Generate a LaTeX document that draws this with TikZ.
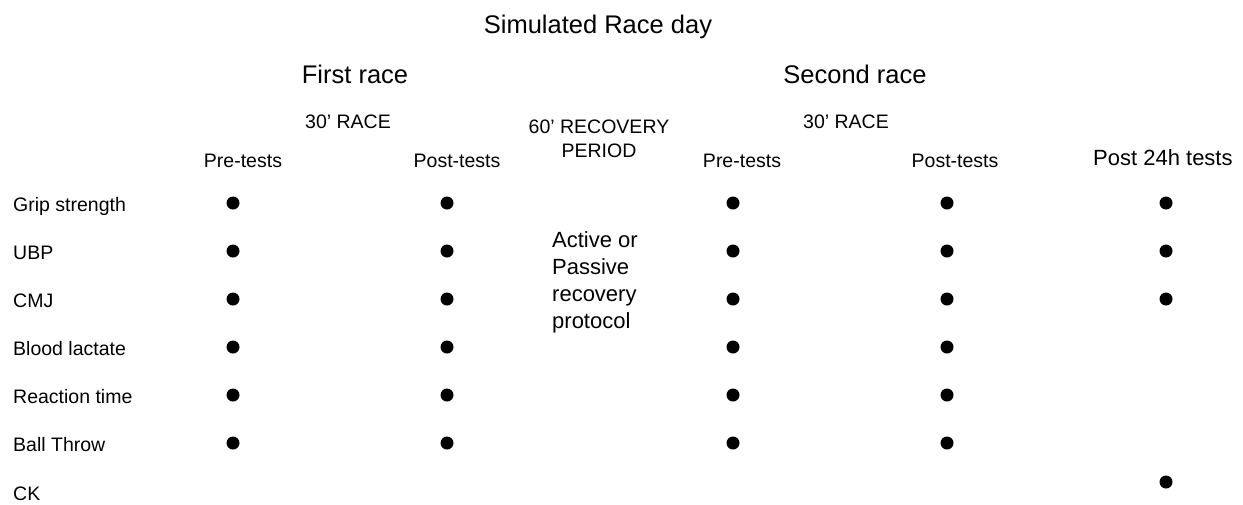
\documentclass[tikz,border=0pt]{standalone}
\usepackage{fontspec}
\setmainfont{Liberation Sans}
\begin{document}
\begin{tikzpicture}[x=1pt,y=-1pt,
 txt/.style={inner sep=0pt,font=\fontsize{19.5}{24}\selectfont},
 head/.style={inner sep=0pt,font=\fontsize{25.5}{30}\selectfont},
 big/.style={inner sep=0pt,font=\fontsize{22}{26.7}\selectfont},
 dot/.style={circle,fill=black,inner sep=0pt,minimum size=13pt}]
 \useasboundingbox (0,0) rectangle (1243,504);
 % headings
 \node[head,anchor=base] (day) at (598,33) {Simulated Race day};
 \node[head,anchor=base] (race1) at (355,83) {First race};
 \node[head,anchor=base] (race2) at (855,83) {Second race};
 \node[txt,anchor=base] (min1) at (348,128) {30' RACE};
 \node[txt,anchor=base] (min2) at (846,128) {30' RACE};
 \node[txt,anchor=base,align=center] (rec) at (599,157) {60' RECOVERY\\PERIOD};
 \node[txt,anchor=base] (pre1) at (243,167) {Pre-tests};
 \node[txt,anchor=base] (post1) at (457,167) {Post-tests};
 \node[txt,anchor=base] (pre2) at (742,167) {Pre-tests};
 \node[txt,anchor=base] (post2) at (955,167) {Post-tests};
 \node[big,anchor=base west] (day2) at (1093,165) {Post 24h tests};
 \node[big,anchor=base west,align=left] (prot) at (552,328) {Active or\\Passive\\recovery\\protocol};
 % rows
 \node[txt,anchor=base west] (grip) at (13,211) {Grip strength};
 \node[txt,anchor=base west] (ubp) at (13,259) {UBP};
 \node[txt,anchor=base west] (cmj) at (13,307) {CMJ};
 \node[txt,anchor=base west] (lac) at (13,355) {Blood lactate};
 \node[txt,anchor=base west] (react) at (13,403) {Reaction time};
 \node[txt,anchor=base west] (ball) at (13,451) {Ball Throw};
 \node[txt,anchor=base west] (ck) at (13,500) {CK};
 % dots
 \foreach \c/\x in {a/233,b/447,c/733,d/947}
 \foreach \r/\y in {1/203,2/251,3/299,4/347,5/395,6/443}
 \node[dot] (\c\r) at (\x,\y) {};
 \node[dot] (e1) at (1166,203) {};
 \node[dot] (e2) at (1166,251) {};
 \node[dot] (e3) at (1166,299) {};
 \node[dot] (e7) at (1166,482) {};
\end{tikzpicture}
\end{document}
